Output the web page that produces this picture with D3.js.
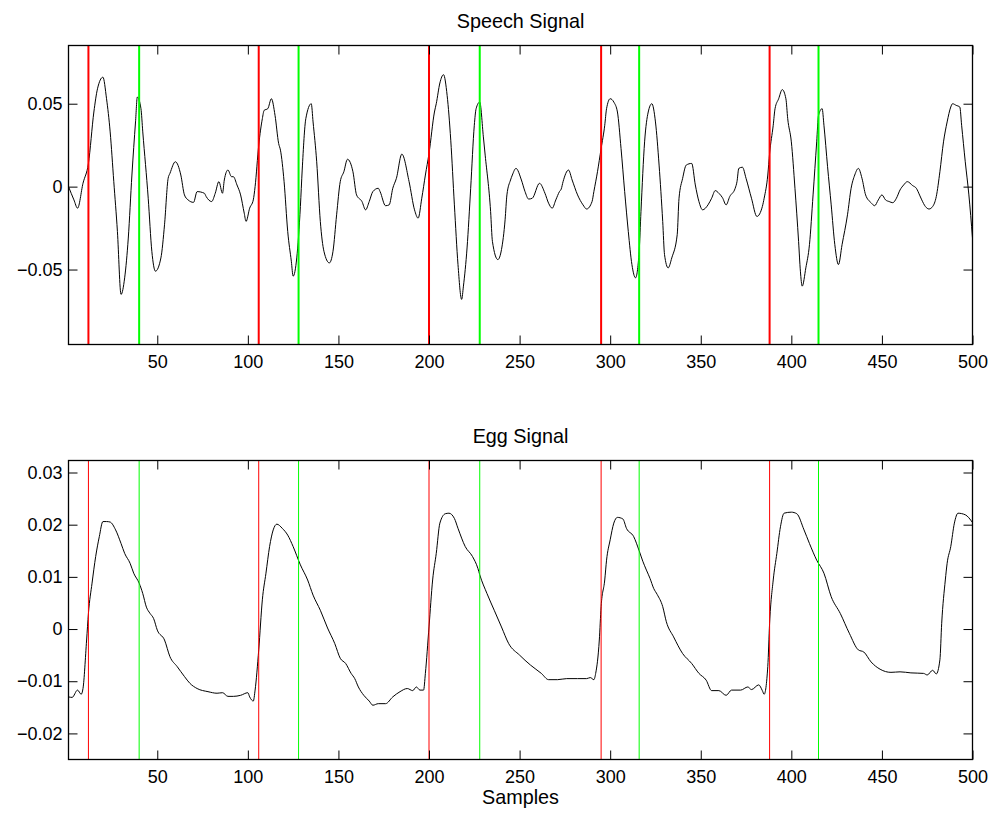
<!DOCTYPE html>
<html>
<head>
<meta charset="utf-8">
<script src="https://cdn.jsdelivr.net/npm/d3@7"></script>
<style>
  html, body { margin: 0; padding: 0; background: #fff; }
  svg { display: block; }
  text { font-family: "Liberation Sans", Arial, Helvetica, sans-serif; fill: #000; }
</style>
</head>
<body>
<svg id="fig" width="993" height="814"></svg>
<script>
// Speech waveform (sample index, amplitude)
const speechSamples = [1,4,6,9,12,15,17,20,22,24,26,28,30,32,34,36,38,39,41,42,45,47,49,52,54,56,57,60,63,65,67,70,72,76,77,80,82,84,86,87,89,91,92,94,96,98,99,101,103,104,106,108,109,111,113,115,117,118,120,122,124,125,127,129,130,132,135,136,138,140,142,145,147,149,151,153,155,158,160,163,165,167,169,172,173,176,178,180,182,185,189,192,194,196,198,200,203,204,206,208,210,212,214,216,218,219,221,223,225,226,228,230,231,234,235,238,240,242,243,245,246,248,251,253,255,257,261,264,266,268,270,272,273,274,277,279,282,285,287,290,291,293,295,297,298,300,302,304,306,308,310,312,314,316,317,319,321,323,325,327,329,330,332,334,337,338,340,342,345,347,349,351,354,356,358,360,362,364,366,369,370,371,373,375,378,381,384,385,387,388,390,391,393,395,397,398,400,402,404,405,406,408,410,412,414,415,417,418,420,422,424,426,428,431,433,435,437,439,441,444,446,448,450,452,454,456,458,460,462,464,467,469,471,472,474,476,478,480,482,484,486,488,489,491,493,494,496,498,500];
const speechValues = [0.000,-0.008,-0.013,0.002,0.014,0.045,0.059,0.066,0.053,0.033,0.003,-0.027,-0.065,-0.055,-0.031,0.007,0.039,0.054,0.047,0.033,-0.007,-0.039,-0.051,-0.043,-0.023,0.005,0.008,0.015,0.007,-0.005,-0.008,-0.0095,-0.003,-0.004,-0.006,-0.009,-0.004,0.003,-0.004,0.004,0.010,0.006,0.006,0.001,-0.005,-0.016,-0.021,-0.013,-0.008,0.000,0.025,0.041,0.046,0.047,0.053,0.043,0.026,0.022,0.003,-0.027,-0.045,-0.054,-0.043,-0.012,0.010,0.041,0.050,0.039,0.015,-0.021,-0.039,-0.046,-0.039,-0.017,0.003,0.009,0.0165,0.009,-0.005,-0.009,-0.014,-0.009,-0.003,-0.001,-0.003,-0.0115,-0.011,-0.001,0.005,0.0196,0.003,-0.014,-0.019,-0.007,0.007,0.020,0.045,0.050,0.0625,0.0675,0.055,0.028,-0.011,-0.047,-0.068,-0.060,-0.037,-0.001,0.037,0.047,0.051,0.030,0.019,-0.015,-0.033,-0.044,-0.038,-0.020,-0.005,0.004,0.007,0.011,0.004,-0.003,-0.0075,-0.007,0.002,-0.004,-0.010,-0.013,-0.008,-0.003,-0.0014,0.003,0.010,0.004,-0.005,-0.011,-0.0135,-0.009,-0.003,0.009,0.023,0.037,0.047,0.053,0.051,0.045,0.023,-0.003,-0.027,-0.047,-0.055,-0.039,-0.015,0.027,0.045,0.050,0.039,0.013,-0.021,-0.041,-0.049,-0.043,-0.029,-0.007,0.005,0.013,0.014,0.001,-0.009,-0.014,-0.011,-0.007,-0.0024,-0.004,-0.0067,-0.011,-0.006,-0.001,0.003,0.011,0.0117,0.005,-0.007,-0.018,-0.012,-0.007,0.007,0.020,0.037,0.047,0.053,0.0585,0.053,0.041,0.027,-0.001,-0.033,-0.051,-0.060,-0.049,-0.035,-0.005,0.027,0.043,0.047,0.037,0.012,-0.011,-0.035,-0.047,-0.035,-0.017,-0.001,0.007,0.011,0.005,-0.005,-0.0097,-0.0115,-0.008,-0.005,-0.008,-0.009,-0.0097,-0.007,-0.002,0.001,0.003,0.0006,-0.001,-0.0056,-0.008,-0.012,-0.0135,-0.012,-0.006,0.009,0.027,0.039,0.048,0.050,0.049,0.048,0.037,0.015,-0.005,-0.031];

// EGG waveform (sample index, amplitude)
const eggSamples = [1,3,6,8,9,11,12,14,16,18,20,22,24,27,30,32,35,37,40,42,44,46,48,50,54,57,61,65,68,72,78,83,86,89,92,96,100,101,103,104,106,108,110,112,114,116,119,122,125,129,133,136,140,144,148,151,154,157,159,161,164,167,169,172,176,180,184,188,191,193,195,197,198,200,202,204,206,209,211,214,216,220,224,227,228,232,236,240,244,250,256,262,266,271,276,282,287,289,291,292,294,295,297,298,300,302,304,307,309,313,316,318,320,322,324,326,329,331,335,340,345,349,353,356,360,364,367,372,376,378,382,384,385,387,388,390,392,394,396,400,403,407,410,414,418,422,427,432,437,440,444,449,455,460,466,473,475,478,480,482,483,485,486,488,490,492,496,500];
const eggValues = [-0.0130,-0.0131,-0.0117,-0.0125,-0.0114,-0.0021,0.0030,0.0088,0.0139,0.0177,0.0206,0.0206,0.0205,0.0190,0.0164,0.0145,0.0126,0.0107,0.0088,0.0068,0.0042,0.0030,0.0020,-0.0002,-0.0021,-0.0053,-0.0072,-0.0091,-0.0104,-0.0114,-0.0120,-0.0123,-0.0122,-0.0129,-0.0129,-0.0127,-0.0122,-0.0130,-0.0138,-0.0117,-0.0040,0.0056,0.0107,0.0158,0.0190,0.0201,0.0193,0.0180,0.0158,0.0123,0.0094,0.0065,0.0036,0.0002,-0.0028,-0.0056,-0.0066,-0.0085,-0.0095,-0.0111,-0.0127,-0.0138,-0.0146,-0.0143,-0.0143,-0.0130,-0.0120,-0.0114,-0.0118,-0.0111,-0.0117,-0.0117,-0.0085,0.0004,0.0094,0.0145,0.0203,0.0221,0.0222,0.0212,0.0193,0.0158,0.0139,0.0116,0.0104,0.0068,0.0036,0.0004,-0.0028,-0.0050,-0.0069,-0.0085,-0.0097,-0.0097,-0.0095,-0.0095,-0.0095,-0.0093,-0.0097,-0.0085,-0.0021,0.0043,0.0094,0.0132,0.0171,0.0203,0.0214,0.0211,0.0193,0.0177,0.0150,0.0130,0.0113,0.0097,0.0078,0.0066,0.0043,0.0014,-0.0015,-0.0047,-0.0066,-0.0085,-0.0098,-0.0118,-0.0118,-0.0127,-0.0117,-0.0117,-0.0111,-0.0116,-0.0107,-0.0118,-0.0125,-0.0072,0.0011,0.0094,0.0145,0.0196,0.0222,0.0224,0.0221,0.0190,0.0164,0.0132,0.0107,0.0062,0.0030,-0.0008,-0.0040,-0.0044,-0.0063,-0.0077,-0.0083,-0.0082,-0.0084,-0.0085,-0.0088,-0.0079,-0.0086,-0.0059,0.0011,0.0094,0.0126,0.0158,0.0203,0.0222,0.0219,0.0204];

// Event markers (sample index)
const redMarks = [12, 106, 200, 295, 388];
const greenMarks = [40, 128, 228, 316, 415];

// Axis limits and ticks
const xLim = [1, 500];
const xTicks = [50, 100, 150, 200, 250, 300, 350, 400, 450, 500];
const speechYLim = [-0.0952, 0.0851];
const speechYTicks = [-0.05, 0, 0.05];
const eggYLim = [-0.025, 0.0323];
const eggYTicks = [-0.02, -0.01, 0, 0.01, 0.02, 0.03];

const titles = ["Speech Signal", "Egg Signal"];
const xLabel = "Samples";

const svg = d3.select("#fig");
const left = 68.5, right = 972.5;
const panels = [
  { top: 45.5, bottom: 344.5, xs: speechSamples, ys: speechValues, ylim: speechYLim, yticks: speechYTicks, title: titles[0], markW: 2 },
  { top: 460.5, bottom: 759.5, xs: eggSamples, ys: eggValues, ylim: eggYLim, yticks: eggYTicks, title: titles[1], markW: 1 }
];

const fmt = v => {
  if (v === 0) return "0";
  const s = String(Math.abs(+v.toFixed(4)));
  return (v < 0 ? "\u2212" : "") + s;
};

const TICK = 9;
const FS = 18;      // tick labels
const FS_L = 19.8;  // titles and axis label

panels.forEach((p, i) => {
  const x = d3.scaleLinear().domain(xLim).range([left, right]);
  const y = d3.scaleLinear().domain(p.ylim).range([p.bottom, p.top]);
  const g = svg.append("g");

  const clipId = "clip" + i;
  svg.append("clipPath").attr("id", clipId)
    .append("rect").attr("x", left).attr("y", p.top)
    .attr("width", right - left).attr("height", p.bottom - p.top);

  const plot = g.append("g").attr("clip-path", `url(#${clipId})`);

  // waveform
  const pts = p.xs.map((s, k) => [s, p.ys[k]]);
  plot.append("path")
    .datum(pts)
    .attr("fill", "none")
    .attr("stroke", "#000")
    .attr("stroke-width", 1)
    .attr("d", d3.line().x(d => x(d[0])).y(d => y(d[1])).curve(d3.curveMonotoneX));

  // marker lines
  plot.selectAll(".red").data(redMarks).enter().append("line")
    .attr("x1", d => x(d)).attr("x2", d => x(d))
    .attr("y1", p.top).attr("y2", p.bottom)
    .attr("stroke", "#ff0000").attr("stroke-width", p.markW);
  plot.selectAll(".green").data(greenMarks).enter().append("line")
    .attr("x1", d => x(d)).attr("x2", d => x(d))
    .attr("y1", p.top).attr("y2", p.bottom)
    .attr("stroke", "#00ff00").attr("stroke-width", p.markW);

  // bottom axis (labels) with inward ticks
  const xb = g.append("g").attr("transform", `translate(0,${p.bottom})`)
    .call(d3.axisBottom(x).tickValues(xTicks).tickSizeInner(-TICK).tickSizeOuter(0).tickPadding(11).tickFormat(d3.format("d")));
  // top mirrored ticks
  const xt = g.append("g").attr("transform", `translate(0,${p.top})`)
    .call(d3.axisTop(x).tickValues(xTicks).tickSizeInner(-TICK).tickSizeOuter(0).tickFormat(""));
  // left axis
  const yl = g.append("g").attr("transform", `translate(${left},0)`)
    .call(d3.axisLeft(y).tickValues(p.yticks).tickSizeInner(-TICK).tickSizeOuter(0).tickPadding(6).tickFormat(fmt));
  // right mirrored ticks
  const yr = g.append("g").attr("transform", `translate(${right},0)`)
    .call(d3.axisRight(y).tickValues(p.yticks).tickSizeInner(-TICK).tickSizeOuter(0).tickFormat(""));

  [xb, xt, yl, yr].forEach(a => {
    a.select(".domain").remove();
    a.selectAll("line").attr("stroke", "#000");
    a.selectAll("text").attr("font-size", FS).attr("font-family", null).attr("fill", "#000");
  });

  // box
  g.append("rect").attr("x", left).attr("y", p.top)
    .attr("width", right - left).attr("height", p.bottom - p.top)
    .attr("fill", "none").attr("stroke", "#000").attr("stroke-width", 1.3);

  // title
  g.append("text").attr("x", (left + right) / 2).attr("y", p.top - 17.5)
    .attr("text-anchor", "middle").attr("font-size", FS_L).text(p.title);

  if (i === 1) {
    g.append("text").attr("x", (left + right) / 2).attr("y", p.bottom + 44.5)
      .attr("text-anchor", "middle").attr("font-size", FS_L).text(xLabel);
  }
});
</script>
</body>
</html>
